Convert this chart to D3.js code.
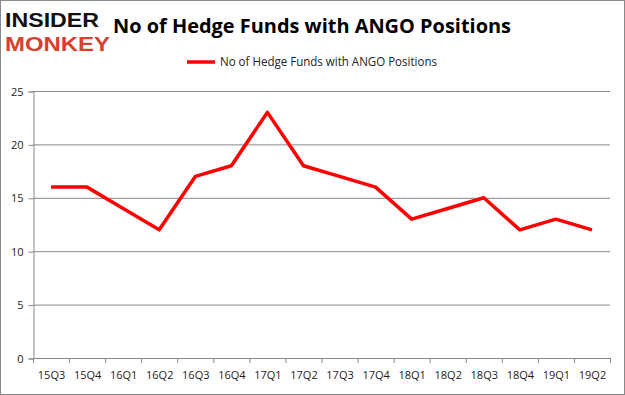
<!DOCTYPE html>
<html><head><meta charset="utf-8">
<script src="https://cdn.jsdelivr.net/npm/d3@7/dist/d3.min.js"></script>
<style>body{margin:0;background:#fff}svg{display:block}</style>
</head><body>
<svg id="c" width="625" height="395"></svg>
<script>
const categories = ["15Q3","15Q4","16Q1","16Q2","16Q3","16Q4","17Q1","17Q2","17Q3","17Q4","18Q1","18Q2","18Q3","18Q4","19Q1","19Q2"];
const values = [16,16,14,12,17,18,23,18,17,16,13,14,15,12,13,12];
const yTicks = [0,5,10,15,20,25];
const seriesName = "No of Hedge Funds with ANGO Positions";
const title = "No of Hedge Funds with ANGO Positions";

const svg = d3.select("#c");
const font = "'Open Sans', sans-serif";
svg.append("rect").attr("x",0.5).attr("y",0.5).attr("width",624).attr("height",394)
  .attr("fill","#fff").attr("stroke","#888");

const L=33, R=610, T=91, B=358;
const x = d3.scaleBand().domain(categories).range([L,R]);
const y = d3.scaleLinear().domain([0,25]).range([B,T]);

svg.append("g").selectAll("line").data(yTicks.filter(d=>d>0)).join("line")
  .attr("x1",L).attr("x2",R).attr("y1",d=>y(d)+0.5).attr("y2",d=>y(d)+0.5)
  .attr("stroke","#888").attr("stroke-width",1);

const yAxis = svg.append("g").attr("transform",`translate(${L+0.5},0.5)`)
  .call(d3.axisLeft(y).tickValues(yTicks).tickSize(5).tickPadding(5));
const xAxis = svg.append("g").attr("transform",`translate(0.5,${B+0.5})`)
  .call(d3.axisBottom(x).tickSize(0).tickPadding(13));
svg.append("g").selectAll("line").data(categories.concat(["_end"])).join("line")
  .attr("x1",(d,i)=>L+i*x.step()+0.5).attr("x2",(d,i)=>L+i*x.step()+0.5)
  .attr("y1",B).attr("y2",B+5).attr("stroke","#888");
[yAxis,xAxis].forEach(a=>{
  a.selectAll("path").attr("stroke","#888");
  a.selectAll("line").attr("stroke","#888");
  a.selectAll("text").attr("font-family",font).attr("font-size",11).attr("fill","#222");
});
xAxis.select("path").attr("d",`M${L},0H${R}`);

svg.append("path").datum(values)
  .attr("fill","none").attr("stroke","#ff0000").attr("stroke-width",3.5)
  .attr("stroke-linejoin","round")
  .attr("d",d3.line().x((d,i)=>x(categories[i])+x.bandwidth()/2).y(d=>y(d)));

svg.append("text").attr("x",113).attr("y",33)
  .attr("font-family",font).attr("font-weight","bold").attr("font-size",20)
  .attr("textLength",398).attr("lengthAdjust","spacingAndGlyphs")
  .attr("fill","#000").text(title);

svg.append("line").attr("x1",187).attr("x2",215).attr("y1",62).attr("y2",62)
  .attr("stroke","#ff0000").attr("stroke-width",3.5);
svg.append("text").attr("x",220).attr("y",66).attr("font-family",font)
  .attr("font-size",12).attr("textLength",217).attr("lengthAdjust","spacingAndGlyphs")
  .attr("fill","#222").text(seriesName);

const logoFont = "'Liberation Sans', Arial, sans-serif";
svg.append("text").attr("x",5).attr("y",27).attr("font-family",logoFont)
  .attr("font-weight","bold").attr("font-size",21).attr("textLength",94).attr("lengthAdjust","spacingAndGlyphs")
  .attr("fill","#111").text("INSIDER");
svg.append("text").attr("x",5).attr("y",50.5).attr("font-family",logoFont)
  .attr("font-weight","bold").attr("font-size",21).attr("textLength",105).attr("lengthAdjust","spacingAndGlyphs")
  .attr("fill","#d6402c").text("MONKEY");
</script>
</body></html>
